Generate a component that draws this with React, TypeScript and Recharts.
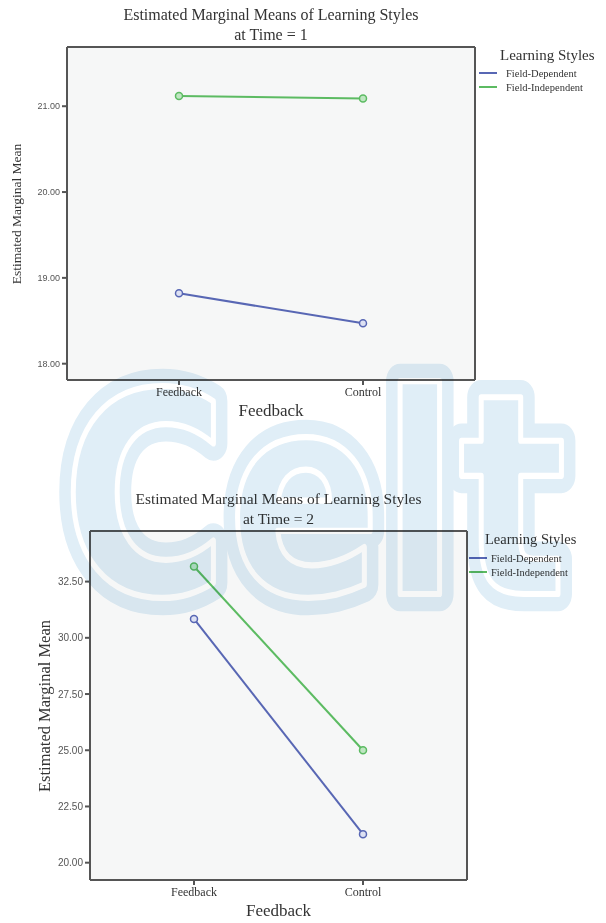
import React from "react";
import { LineChart, Line, XAxis, YAxis, CartesianGrid } from "recharts";

const categories = ["Feedback", "Control"];
const time1Dependent = [18.82, 18.47];
const time1Independent = [21.12, 21.09];
const time2Dependent = [30.84, 21.27];
const time2Independent = [33.17, 25.0];
const time1Ticks = [18, 19, 20, 21];
const time2Ticks = [20, 22.5, 25, 27.5, 30, 32.5];
const seriesNames = ["Field-Dependent", "Field-Independent"];

const BLUE = "#5867b4";
const GREEN = "#5cbb62";
const FRAME = "#555555";
const SERIF = "'Liberation Serif', 'Times New Roman', serif";
const SANS = "'Liberation Sans', Arial, sans-serif";

function buildRows(dep: number[], indep: number[]) {
  return categories.map((c, i) => ({ group: c, dependent: dep[i], independent: indep[i] }));
}

interface PanelProps {
  top: number;
  height: number;
  plot: { left: number; top: number; right: number; bottom: number };
  domain: [number, number];
  ticks: number[];
  pad: number;
  rows: any[];
  title: string;
  time: number;
  tickFont: number;
  yTitleFont: number;
  yTitleX: number;
  titleFont: number;
  legend: { x: number; y: number; font: number; swatchX: number; textX: number; items: number[] };
}

function Panel(p: PanelProps) {
  const width = 606;
  const plotW = p.plot.right - p.plot.left;
  const plotH = p.plot.bottom - p.plot.top;
  const cx = p.plot.left + plotW / 2;
  const cy = p.plot.top + plotH / 2;

  return (
    <div style={{ position: "absolute", left: 0, top: p.top, width, height: p.height }}>
      <LineChart
        width={width}
        height={p.height}
        data={p.rows}
        margin={{
          top: p.plot.top,
          left: p.plot.left - 60,
          right: width - p.plot.right,
          bottom: p.height - p.plot.bottom - 30,
        }}
      >
        {/* plot background + box frame */}
        <CartesianGrid
          fill="#f6f7f7"
          stroke={FRAME}
          strokeWidth={2}
          horizontalPoints={[p.plot.top, p.plot.bottom]}
          verticalPoints={[p.plot.left, p.plot.right]}
        />
        <XAxis
          dataKey="group"
          height={30}
          padding={{ left: p.pad, right: p.pad }}
          axisLine={{ stroke: FRAME, strokeWidth: 2 }}
          tickLine={{ stroke: FRAME, strokeWidth: 2 }}
          tickSize={5}
          tick={{ fill: "#333", fontSize: 12, fontFamily: SERIF }}
        />
        <YAxis
          width={60}
          domain={p.domain}
          ticks={p.ticks}
          type="number"
          allowDataOverflow
          tickFormatter={(v: number) => v.toFixed(2)}
          axisLine={{ stroke: FRAME, strokeWidth: 2 }}
          tickLine={{ stroke: FRAME, strokeWidth: 2 }}
          tickSize={5}
          tick={{ fill: "#555", fontSize: p.tickFont, fontFamily: SANS }}
        />
        <Line
          dataKey="dependent"
          stroke={BLUE}
          strokeWidth={2}
          dot={{ r: 3.5, stroke: BLUE, strokeWidth: 1.5, fill: "#dde1f3" }}
          isAnimationActive={false}
        />
        <Line
          dataKey="independent"
          stroke={GREEN}
          strokeWidth={2}
          dot={{ r: 3.5, stroke: GREEN, strokeWidth: 1.5, fill: "#bfe6c2" }}
          isAnimationActive={false}
        />
      </LineChart>

      {/* title */}
      <div style={{ position: "absolute", left: cx - 250, width: 500, top: p.plot.top - 42, textAlign: "center",
        fontFamily: SERIF, fontSize: p.titleFont, lineHeight: "20px", color: "#333" }}>
        {p.title}
        <br />
        {`at Time = ${p.time}`}
      </div>

      {/* axis titles */}
      <div style={{ position: "absolute", left: p.yTitleX - 150, top: cy - 12, width: 300, textAlign: "center",
        transform: "rotate(-90deg)", fontFamily: SERIF, fontSize: p.yTitleFont, lineHeight: "24px", color: "#333" }}>
        Estimated Marginal Mean
      </div>
      <div style={{ position: "absolute", left: cx - 100, width: 200, top: p.plot.bottom + 21, textAlign: "center",
        fontFamily: SERIF, fontSize: 17, lineHeight: "20px", color: "#333" }}>
        Feedback
      </div>

      {/* legend */}
      <div style={{ position: "absolute", left: p.legend.x, top: p.legend.y - 10, fontFamily: SERIF,
        fontSize: p.legend.font, lineHeight: "20px", color: "#333", whiteSpace: "nowrap" }}>
        Learning Styles
      </div>
      {seriesNames.map((name, i) => (
        <div key={name} style={{ position: "absolute", left: p.legend.swatchX, top: p.legend.items[i] - 7, height: 14,
          display: "flex", alignItems: "center", whiteSpace: "nowrap" }}>
          <span style={{ display: "inline-block", width: 18, height: 2, background: i === 0 ? BLUE : GREEN }} />
          <span style={{ marginLeft: p.legend.textX - p.legend.swatchX - 18, fontFamily: SERIF, fontSize: 10.5, color: "#333" }}>
            {name}
          </span>
        </div>
      ))}
    </div>
  );
}

export default function App() {
  return (
    <div style={{ position: "absolute", left: 0, top: 0, width: 606, height: 923, background: "#fff", overflow: "hidden" }}>
      <Panel
        top={0}
        height={430}
        plot={{ left: 67, top: 47, right: 475, bottom: 380 }}
        domain={[17.81, 21.69]}
        ticks={time1Ticks}
        pad={112}
        rows={buildRows(time1Dependent, time1Independent)}
        title="Estimated Marginal Means of Learning Styles"
        time={1}
        tickFont={9}
        yTitleFont={13.5}
        yTitleX={17}
        titleFont={16}
        legend={{ x: 500, y: 55, font: 15, swatchX: 479, textX: 506, items: [73, 87] }}
      />
      <Panel
        top={450}
        height={473}
        plot={{ left: 90, top: 81, right: 467, bottom: 430 }}
        domain={[19.23, 34.75]}
        ticks={time2Ticks}
        pad={104}
        rows={buildRows(time2Dependent, time2Independent)}
        title="Estimated Marginal Means of Learning Styles"
        time={2}
        tickFont={10}
        yTitleFont={16.5}
        yTitleX={45}
        titleFont={15.5}
        legend={{ x: 485, y: 89, font: 14.5, swatchX: 469, textX: 491, items: [108, 122] }}
      />

      {/* Celt watermark */}
      <svg width={606} height={923} style={{ position: "absolute", left: 0, top: 0, mixBlendMode: "multiply", pointerEvents: "none" }}>
        <g transform="translate(62,594) scale(1,1.24)">
          <text x={0} y={0} fontFamily="'DejaVu Sans', sans-serif" fontWeight={700} fontSize={226}
            fill="#e0eef7" stroke="#e0eef7" strokeWidth={28} strokeLinejoin="round">
            Celt
          </text>
          <text x={0} y={0} fontFamily="'DejaVu Sans', sans-serif" fontWeight={700} fontSize={226}
            fill="#e0eef7" stroke="#ffffff" strokeWidth={5} strokeLinejoin="round">
            Celt
          </text>
        </g>
      </svg>
    </div>
  );
}
